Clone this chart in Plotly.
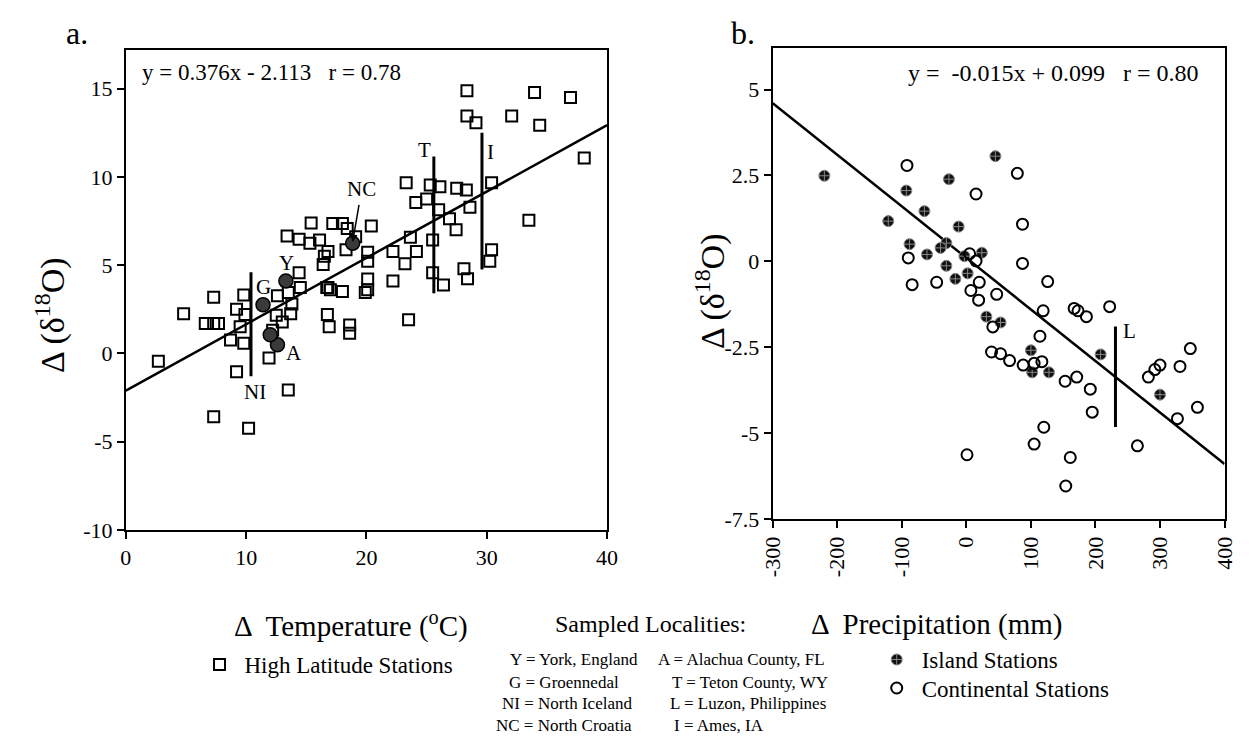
import plotly.graph_objects as go

# ---------------- data: panel a (temperature) ----------------
hl_temp = [2.7, 4.8, 6.6, 7.3, 7.7, 7.3, 9.8, 9.2, 9.9, 9.5, 8.7, 9.8, 9.2, 7.3, 10.2,
           13.5, 12.6, 13.5, 13.8, 13.7, 12.5, 13.0, 12.2, 11.9, 14.5, 16.7, 18.0, 16.75,
           16.9, 18.6, 18.6, 15.4, 13.4, 14.4, 15.3, 16.1, 16.8, 16.5, 16.4, 17.2, 18.0,
           18.4, 18.3, 19.1, 14.4, 16.8, 28.35, 33.97, 36.96, 28.35, 29.1, 32.07, 34.4,
           38.1, 23.3, 25.3, 26.1, 27.5, 28.3, 30.4, 25.0, 24.1, 26.0, 28.6, 26.9, 27.45,
           33.5, 20.4, 23.65, 24.15, 22.2, 23.2, 20.1, 20.1, 25.5, 30.4, 30.25, 25.5, 28.1,
           28.4, 22.2, 20.1, 26.4, 20.1, 19.9, 23.5, 17.0]
hl_d18o = [-0.45, 2.24, 1.69, 1.69, 1.69, 3.17, 3.3, 2.5, 2.2, 1.5, 0.76, 0.57, -1.04, -3.6,
           -4.25, -2.08, 3.26, 3.45, 2.8, 2.24, 2.15, 1.78, 1.31, -0.26, 3.73, 3.73, 3.5,
           2.2, 1.5, 1.6, 1.13, 7.39, 6.64, 6.46, 6.24, 6.42, 5.77, 5.5, 5.03, 7.35, 7.35,
           7.07, 5.87, 6.6, 4.57, 3.73, 14.87, 14.77, 14.5, 13.44, 13.07, 13.44, 12.92,
           11.06, 9.67, 9.54, 9.43, 9.35, 9.26, 9.67, 8.74, 8.55, 8.13, 8.28, 7.63, 7.0,
           7.54, 7.22, 6.57, 5.77, 5.77, 5.08, 5.72, 5.22, 6.42, 5.87, 5.22, 4.57, 4.79,
           4.23, 4.1, 4.21, 3.87, 3.6, 3.45, 1.9, 3.6]

# Y, G, NC, A (two overlapping circles at A)
site_temp = [13.3, 11.4, 18.85, 12.6, 12.0]
site_d18o = [4.1, 2.75, 6.24, 0.48, 1.05]

# vertical ranges at sampled localities
range_a_x = [10.4, 25.6, 29.6]
range_a_lo = [-1.3, 3.4, 4.75]
range_a_hi = [4.6, 11.15, 12.5]

fit_a = (0.376, -2.113)
temp_range = [0, 40]
temp_ticks = [0, 10, 20, 30, 40]
d18o_ticks_a = [-10, -5, 0, 5, 10, 15]

# ---------------- data: panel b (precipitation) ----------------
isl_prec = [-220, 45, -27, -93, -65, -121, -12, -88, -31, -40, -61, -3, 24, -31, -17, 2,
            31, 53, 100, 102, 128, 208, 300]
isl_d18o = [2.49, 3.06, 2.39, 2.06, 1.46, 1.17, 1.01, 0.5, 0.53, 0.39, 0.2, 0.15, 0.25,
            -0.13, -0.51, -0.35, -1.61, -1.78, -2.59, -3.23, -3.23, -2.71, -3.88]

con_prec = [-92, 79, 15, 87, -90, 5, 15, 87, -84, -46, 20, 7, 47, 126, 19, 41, 119, 167,
            173, 186, 222, 114, 39, 53, 67, 88, 105, 117, 153, 171, 192, 195, 120, 105, 1,
            161, 154, 265, 282, 292, 300, 331, 347, 327, 358]
con_d18o = [2.79, 2.56, 1.96, 1.08, 0.1, 0.22, 0.01, -0.06, -0.68, -0.61, -0.61, -0.85,
            -0.96, -0.59, -1.13, -1.91, -1.44, -1.37, -1.44, -1.61, -1.32, -2.18, -2.64,
            -2.69, -2.89, -3.02, -2.97, -2.92, -3.49, -3.37, -3.72, -4.39, -4.83, -5.32,
            -5.63, -5.71, -6.54, -5.37, -3.37, -3.15, -3.02, -3.06, -2.54, -4.58, -4.25]

range_b_x = [231]
range_b_lo = [-4.82]
range_b_hi = [-1.9]

fit_b = (-0.015, 0.099)
prec_range = [-300, 400]
prec_ticks = [-300, -200, -100, 0, 100, 200, 300, 400]
d18o_ticks_b = [5, 2.5, 0, -2.5, -5, -7.5]

FONT = "Liberation Serif, Times New Roman, serif"
W, H = 1255, 752


def px(x):
    return x / W


def py(y):
    return 1 - y / H


fig = go.Figure()

# panel a
fig.add_trace(go.Scatter(
    x=hl_temp, y=hl_d18o, mode="markers", name="High Latitude Stations",
    marker=dict(symbol="square-open", size=11, color="black", line=dict(width=2)),
    xaxis="x", yaxis="y", legend="legend"))
fig.add_trace(go.Scatter(
    x=temp_range, y=[fit_a[0] * v + fit_a[1] for v in temp_range], mode="lines",
    line=dict(color="black", width=2.5), showlegend=False, xaxis="x", yaxis="y"))
for x, lo, hi in zip(range_a_x, range_a_lo, range_a_hi):
    fig.add_trace(go.Scatter(x=[x, x], y=[lo, hi], mode="lines",
                             line=dict(color="black", width=3), showlegend=False,
                             xaxis="x", yaxis="y"))
fig.add_trace(go.Scatter(
    x=site_temp, y=site_d18o, mode="markers", showlegend=False,
    marker=dict(symbol="circle", size=14, color="#3a3a3a", line=dict(color="black", width=1.5)),
    xaxis="x", yaxis="y"))

# panel b
fig.add_trace(go.Scatter(
    x=prec_range, y=[fit_b[0] * v + fit_b[1] for v in prec_range], mode="lines",
    line=dict(color="black", width=2.5), showlegend=False, xaxis="x2", yaxis="y2"))
for x, lo, hi in zip(range_b_x, range_b_lo, range_b_hi):
    fig.add_trace(go.Scatter(x=[x, x], y=[lo, hi], mode="lines",
                             line=dict(color="black", width=3), showlegend=False,
                             xaxis="x2", yaxis="y2"))
fig.add_trace(go.Scatter(
    x=isl_prec, y=isl_d18o, mode="markers", name="Island Stations",
    marker=dict(symbol="circle-cross", size=11, color="#111", line=dict(color="#888", width=1)),
    xaxis="x2", yaxis="y2", legend="legend2"))
fig.add_trace(go.Scatter(
    x=con_prec, y=con_d18o, mode="markers", name="Continental Stations",
    marker=dict(symbol="circle-open", size=11, color="black", line=dict(width=2)),
    xaxis="x2", yaxis="y2", legend="legend3"))

axis_common = dict(showline=True, linecolor="black", linewidth=2, mirror=True,
                   ticks="outside", ticklen=7, tickwidth=2, tickcolor="black",
                   showgrid=False, zeroline=False,
                   tickfont=dict(family=FONT, size=22, color="black"))

legend_common = dict(xanchor="left", yanchor="middle", itemwidth=40,
                     font=dict(family=FONT, size=23, color="black"),
                     bgcolor="rgba(0,0,0,0)")

fig.update_layout(
    width=W, height=H,
    margin=dict(l=0, r=0, t=0, b=0),
    paper_bgcolor="white", plot_bgcolor="white",
    font=dict(family=FONT, color="black"),
    xaxis=dict(domain=[px(107), px(598)], range=[0, 40], tickvals=temp_ticks,
               ticktext=[str(v) for v in temp_ticks], anchor="y", **axis_common),
    yaxis=dict(domain=[py(531), py(43)], range=[-10, 17.17], tickvals=d18o_ticks_a,
               ticktext=[str(v) for v in d18o_ticks_a], anchor="x", **axis_common),
    xaxis2=dict(domain=[px(767), px(1228)], range=[-300, 400], tickvals=prec_ticks,
                ticktext=[str(v) for v in prec_ticks], tickangle=-90, anchor="y2",
                **axis_common),
    yaxis2=dict(domain=[py(520), py(41)], range=[-7.5, 6.2], tickvals=d18o_ticks_b,
                ticktext=[str(v) for v in d18o_ticks_b], anchor="x2", **axis_common),
    legend=dict(x=px(177), y=py(668), **legend_common),
    legend2=dict(x=px(868), y=py(663), **legend_common),
    legend3=dict(x=px(868), y=py(692), **legend_common),
)

ann = []


def text(x, y, s, size, xanchor="center", angle=0):
    ann.append(dict(x=px(x), y=py(y), xref="paper", yref="paper", text=s, showarrow=False,
                    xanchor=xanchor, yanchor="middle", textangle=angle,
                    font=dict(family=FONT, size=size, color="black")))


text(57, 25, "a.", 32)
text(737, 25, "b.", 32)
text(256, 66, "y = 0.376x - 2.113   r = 0.78", 23)
text(1053, 66, "y =  -0.015x + 0.099   r = 0.80", 24)
text(30, 312, "Δ (δ<sup>18</sup>O)", 34, angle=-90)
text(703, 288, "Δ (δ<sup>18</sup>O)", 34, angle=-90)
text(337, 627, "Δ  Temperature (<sup>o</sup>C)", 29)
text(934, 627, "Δ  Precipitation (mm)", 29)
text(642, 627, "Sampled Localities:", 24)

rows_left = ["Y = York, England", "G = Groennedal", "NI = North Iceland", "NC = North Croatia"]
rows_left_x = [497, 496, 489, 483]
rows_right = ["A = Alachua County, FL", "T = Teton County, WY", "L = Luzon, Philippines",
              "I = Ames, IA"]
rows_right_x = [648, 662, 660, 664]
rows_y = [663, 686, 708, 730]
for s, x, y in zip(rows_left, rows_left_x, rows_y):
    text(x, y, s, 17, xanchor="left")
for s, x, y in zip(rows_right, rows_right_x, rows_y):
    text(x, y, s, 17, xanchor="left")

# locality labels inside the plots (data coordinates)
for lab, x, y in [("Y", 13.35, 5.1), ("G", 11.4, 3.75), ("A", 14.0, 0.0), ("NI", 10.7, -2.2),
                  ("T", 24.8, 11.5), ("I", 30.3, 11.4), ("NC", 19.55, 9.3)]:
    ann.append(dict(x=x, y=y, xref="x", yref="y", text=lab, showarrow=False,
                    font=dict(family=FONT, size=21, color="black")))
ann.append(dict(x=18.85, y=6.3, xref="x", yref="y", ax=19.4, ay=8.5, axref="x", ayref="y",
                text="", showarrow=True, arrowhead=2, arrowsize=1, arrowwidth=1.5,
                arrowcolor="black"))
ann.append(dict(x=252, y=-2.03, xref="x2", yref="y2", text="L", showarrow=False,
                font=dict(family=FONT, size=21, color="black")))

fig.update_layout(annotations=ann)
fig.write_html("out.html")
